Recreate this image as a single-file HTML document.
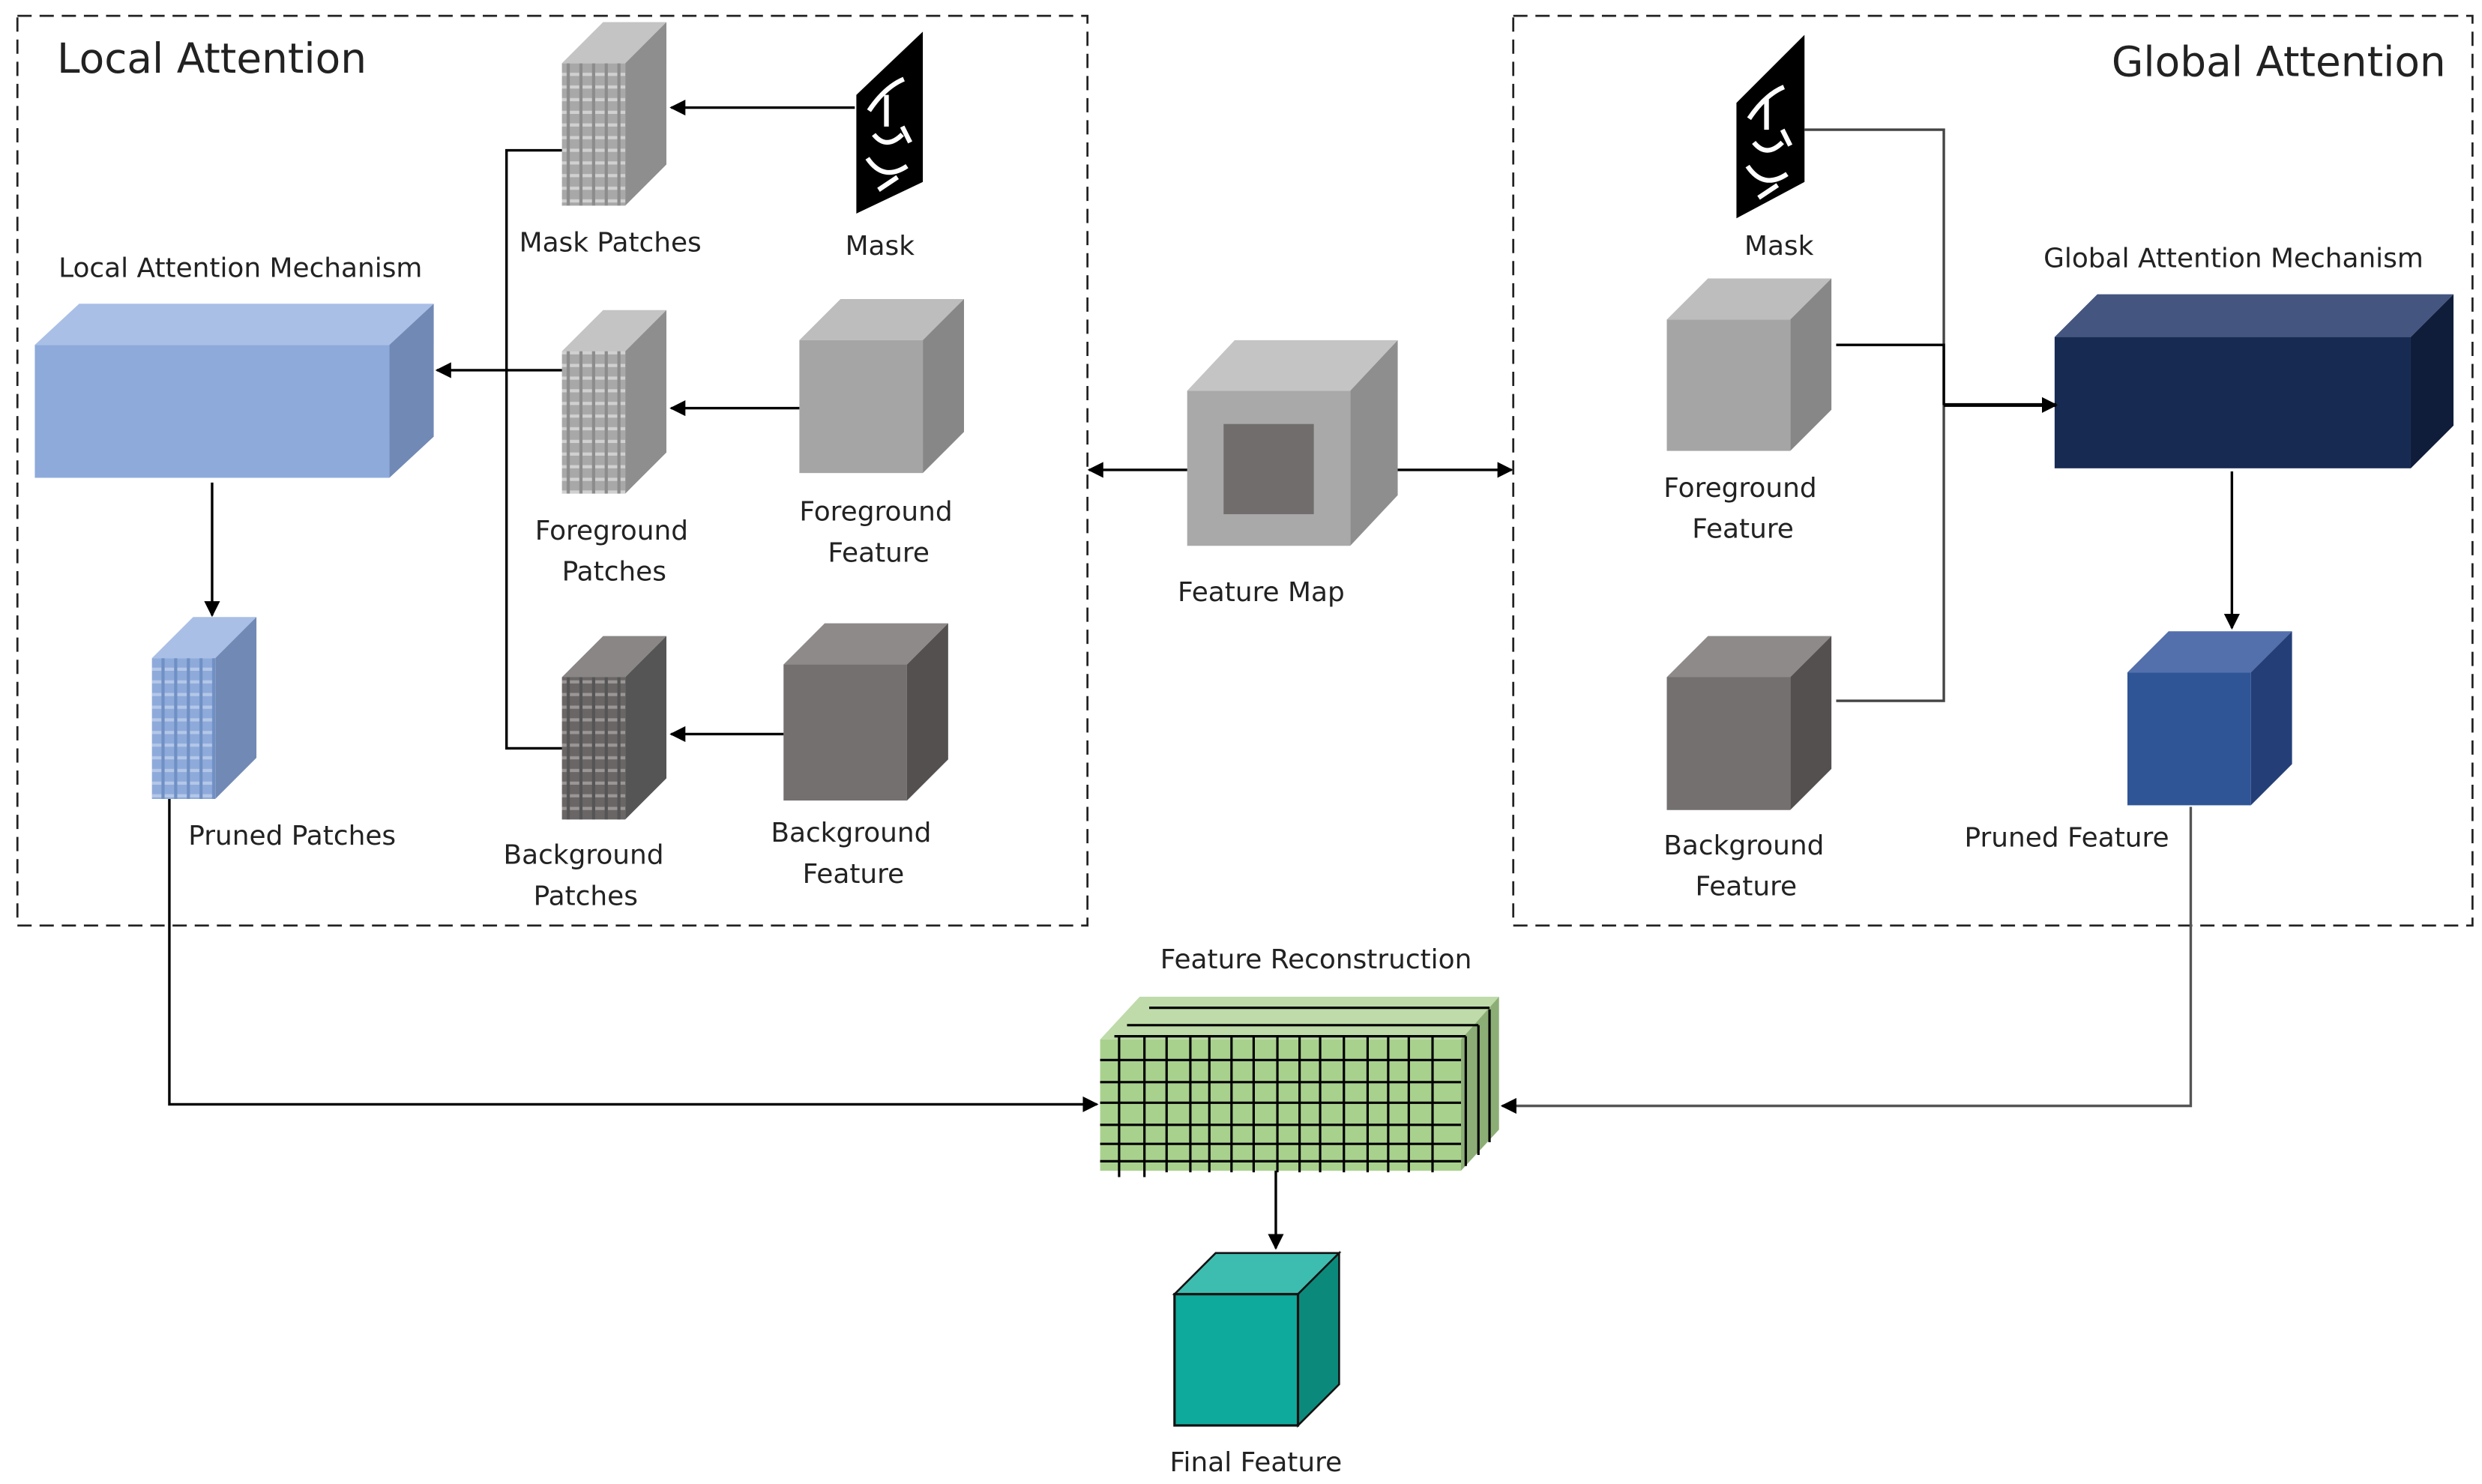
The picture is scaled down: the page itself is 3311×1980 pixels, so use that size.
<!DOCTYPE html>
<html><head><meta charset="utf-8"><style>
html,body{margin:0;padding:0;background:#fff;width:3311px;height:1980px;overflow:hidden}
svg{display:block}
text{font-family:"DejaVu Sans","Liberation Sans",sans-serif;fill:#222;font-size:17px}
</style></head><body>
<svg width="3311" height="1980" viewBox="0 0 1568 938" preserveAspectRatio="none" xmlns="http://www.w3.org/2000/svg">
<defs>
<marker id="ar" markerWidth="10" markerHeight="10" refX="9" refY="5" orient="auto" markerUnits="userSpaceOnUse"><path d="M0,0 L10,5 L0,10 z" fill="#000"/></marker>
<pattern id="pg" width="8" height="8" patternUnits="userSpaceOnUse"><rect width="8" height="8" fill="#a8a8a8"/><rect y="6" width="8" height="2" fill="#d0d0d0"/><rect x="6" width="2" height="8" fill="#8c8c8c"/></pattern>
<pattern id="pd" width="8" height="8" patternUnits="userSpaceOnUse"><rect width="8" height="8" fill="#6a6666"/><rect y="6" width="8" height="2" fill="#9a9696"/><rect x="6" width="2" height="8" fill="#555"/></pattern>
<pattern id="pb" width="8" height="8" patternUnits="userSpaceOnUse"><rect width="8" height="8" fill="#8eaadb"/><rect y="6" width="8" height="2" fill="#b4c7e7"/><rect x="6" width="2" height="8" fill="#7090c4"/></pattern>
</defs>

<rect x="11" y="10" width="676" height="575" fill="none" stroke="#222" stroke-width="1.3" stroke-dasharray="9,5"/>
<rect x="956" y="10" width="606" height="575" fill="none" stroke="#222" stroke-width="1.3" stroke-dasharray="9,5"/>
<text x="36" y="46" style="font-size:26px">Local Attention</text>
<text x="1334" y="48" style="font-size:26px">Global Attention</text>

<polygon points="22,218 50,192 274,192 246,218" fill="#a9bfe6"/>
<polygon points="246,218 274,192 274,276 246,302" fill="#7189b5"/>
<rect x="22" y="218" width="224" height="84" fill="#8eaadb"/>
<text x="37" y="175">Local Attention Mechanism</text>

<g>
<polygon points="355,40 381,14 421,14 395,40" fill="#c4c4c4"/>
<polygon points="395,40 421,14 421,104 395,130" fill="#8e8e8e"/>
<rect x="355" y="40" width="40" height="90" fill="url(#pg)"/>
<polygon points="355,222 381,196 421,196 395,222" fill="#c4c4c4"/>
<polygon points="395,222 421,196 421,286 395,312" fill="#8e8e8e"/>
<rect x="355" y="222" width="40" height="90" fill="url(#pg)"/>
<polygon points="355,428 381,402 421,402 395,428" fill="#8a8686"/>
<polygon points="395,428 421,402 421,492 395,518" fill="#555"/>
<rect x="355" y="428" width="40" height="90" fill="url(#pd)"/>
<polygon points="96,416 122,390 162,390 136,416" fill="#a9bfe6"/>
<polygon points="136,416 162,390 162,479 136,505" fill="#7189b5"/>
<rect x="96" y="416" width="40" height="89" fill="url(#pb)"/>
</g>
<text x="328" y="159">Mask Patches</text>
<text x="338" y="341">Foreground</text><text x="355" y="367">Patches</text>
<text x="318" y="546">Background</text><text x="337" y="572">Patches</text>
<text x="119" y="534">Pruned Patches</text>

<polygon points="541,60 583,20 583,115 541,135" fill="#000"/>
<path d="M549,70 q10,-15 22,-20 M552,85 q8,10 18,0 M548,100 q10,15 25,5 M555,120 l12,-8 M560,60 l0,20 M570,80 l5,10" stroke="#fff" stroke-width="3" fill="none"/>
<text x="534" y="161">Mask</text>
<polygon points="1097,65 1140,22 1140,115 1097,138" fill="#000"/>
<path d="M1105,75 q10,-15 22,-20 M1108,90 q8,10 18,0 M1104,105 q10,15 25,5 M1111,125 l12,-8 M1116,62 l0,20 M1126,82 l5,10" stroke="#fff" stroke-width="3" fill="none"/>
<text x="1102" y="161">Mask</text>

<polygon points="505,215 531,189 609,189 583,215" fill="#bdbdbd"/>
<polygon points="583,215 609,189 609,273 583,299" fill="#878787"/>
<rect x="505" y="215" width="78" height="84" fill="#a5a5a5"/>
<text x="505" y="329">Foreground</text><text x="523" y="355">Feature</text>
<polygon points="495,420 521,394 599,394 573,420" fill="#8e8a8a"/>
<polygon points="573,420 599,394 599,480 573,506" fill="#545050"/>
<rect x="495" y="420" width="78" height="86" fill="#747070"/>
<text x="487" y="532">Background</text><text x="507" y="558">Feature</text>

<polygon points="750,247 780,215 883,215 853,247" fill="#c4c4c4"/>
<polygon points="853,247 883,215 883,313 853,345" fill="#8e8e8e"/>
<rect x="750" y="247" width="103" height="98" fill="#a9a9a9"/>
<rect x="773" y="268" width="57" height="57" fill="#716d6d"/>
<text x="744" y="380">Feature Map</text>

<polygon points="1053,202 1079,176 1157,176 1131,202" fill="#bdbdbd"/>
<polygon points="1131,202 1157,176 1157,259 1131,285" fill="#878787"/>
<rect x="1053" y="202" width="78" height="83" fill="#a5a5a5"/>
<text x="1051" y="314">Foreground</text><text x="1069" y="340">Feature</text>
<polygon points="1053,428 1079,402 1157,402 1131,428" fill="#8e8a8a"/>
<polygon points="1131,428 1157,402 1157,486 1131,512" fill="#545050"/>
<rect x="1053" y="428" width="78" height="84" fill="#747070"/>
<text x="1051" y="540">Background</text><text x="1071" y="566">Feature</text>
<polygon points="1298,213 1325,186 1550,186 1523,213" fill="#44557f"/>
<polygon points="1523,213 1550,186 1550,269 1523,296" fill="#101d3a"/>
<rect x="1298" y="213" width="225" height="83" fill="#172a52"/>
<text x="1291" y="169">Global Attention Mechanism</text>
<polygon points="1344,425 1370,399 1448,399 1422,425" fill="#5370ad"/>
<polygon points="1422,425 1448,399 1448,483 1422,509" fill="#243f78"/>
<rect x="1344" y="425" width="78" height="84" fill="#2f5597"/>
<text x="1241" y="535">Pruned Feature</text>

<g>
<polygon points="695,657 720,630 947,630 923,657" fill="#bedba9"/>
<polygon points="923,657 947,630 947,714 923,740" fill="#8cae76"/>
<rect x="695" y="657" width="228" height="83" fill="#a9d18e"/>
<g stroke="#000" stroke-width="1.5">
<line x1="726" y1="637" x2="941" y2="637"/><line x1="712" y1="648" x2="934" y2="648"/><line x1="704" y1="655" x2="926" y2="655"/>
<line x1="926" y1="655" x2="926" y2="737"/><line x1="934" y1="648" x2="934" y2="730"/><line x1="941" y1="638" x2="941" y2="722"/>
<line x1="695" y1="670" x2="923" y2="670"/><line x1="695" y1="684" x2="923" y2="684"/><line x1="695" y1="697" x2="923" y2="697"/><line x1="695" y1="711" x2="923" y2="711"/><line x1="695" y1="723" x2="923" y2="723"/><line x1="695" y1="734" x2="923" y2="734"/>
<line x1="707" y1="655" x2="707" y2="744"/><line x1="723" y1="655" x2="723" y2="744"/><line x1="737" y1="655" x2="737" y2="741"/><line x1="752" y1="655" x2="752" y2="741"/><line x1="764" y1="655" x2="764" y2="741"/><line x1="778" y1="655" x2="778" y2="741"/><line x1="792" y1="655" x2="792" y2="741"/><line x1="807" y1="655" x2="807" y2="741"/><line x1="821" y1="655" x2="821" y2="741"/><line x1="834" y1="655" x2="834" y2="741"/><line x1="849" y1="655" x2="849" y2="741"/><line x1="864" y1="655" x2="864" y2="741"/><line x1="877" y1="655" x2="877" y2="741"/><line x1="890" y1="655" x2="890" y2="741"/><line x1="905" y1="655" x2="905" y2="741"/>
</g>
<text x="733" y="612">Feature Reconstruction</text>
</g>

<polygon points="742,818 768,792 846,792 820,818" fill="#3dbdb0" stroke="#111" stroke-width="1.2"/>
<polygon points="820,818 846,792 846,875 820,901" fill="#0b8a7c" stroke="#111" stroke-width="1.2"/>
<rect x="742" y="818" width="78" height="83" fill="#0eaa9b" stroke="#111" stroke-width="1.5"/>
<text x="739" y="930">Final Feature</text>

<g stroke="#000" stroke-width="1.6" fill="none">
<polyline points="355,95 320,95 320,473 355,473"/>
<line x1="320" y1="234" x2="355" y2="234"/>
<line x1="320" y1="234" x2="276" y2="234" marker-end="url(#ar)"/>
<line x1="540" y1="68" x2="424" y2="68" marker-end="url(#ar)"/>
<line x1="505" y1="258" x2="424" y2="258" marker-end="url(#ar)"/>
<line x1="495" y1="464" x2="424" y2="464" marker-end="url(#ar)"/>
<line x1="134" y1="305" x2="134" y2="389" marker-end="url(#ar)"/>
<line x1="750" y1="297" x2="688" y2="297" marker-end="url(#ar)"/>
<line x1="883" y1="297" x2="955" y2="297" marker-end="url(#ar)"/>
<polyline points="1140,82 1228,82 1228,443 1160,443" stroke="#444"/>
<polyline points="1160,218 1228,218 1228,256"/>
<line x1="1228" y1="256" x2="1299" y2="256" stroke-width="2.4" marker-end="url(#ar)"/>
<line x1="1410" y1="298" x2="1410" y2="397" marker-end="url(#ar)"/>
<polyline points="107,505 107,698 693,698" marker-end="url(#ar)"/>
<polyline points="1384,510 1384,699 949,699" stroke="#555" marker-end="url(#ar)"/>
<line x1="806" y1="740" x2="806" y2="789" marker-end="url(#ar)"/>
</g>
</svg>
</body></html>
